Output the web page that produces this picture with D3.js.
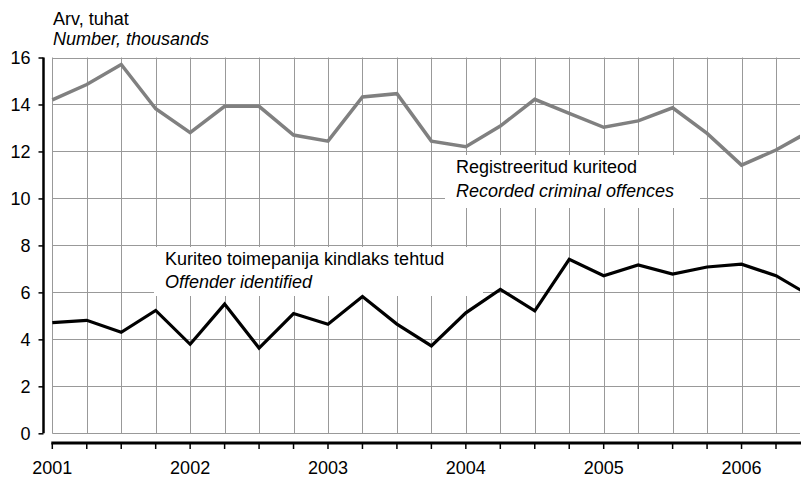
<!DOCTYPE html>
<html>
<head>
<meta charset="utf-8">
<script src="https://cdn.jsdelivr.net/npm/d3@7"></script>
<style>
  html, body { margin: 0; padding: 0; background: #fff; }
  svg { display: block; font-family: "Liberation Sans", Arial, sans-serif; }
</style>
</head>
<body>
<svg id="chart" width="801" height="478"></svg>
<script>
// Quarterly data, 2001 Q1 ... 2006 Q3 (last point partly outside the frame)
const quarters = ["2001 I","2001 II","2001 III","2001 IV","2002 I","2002 II","2002 III","2002 IV",
  "2003 I","2003 II","2003 III","2003 IV","2004 I","2004 II","2004 III","2004 IV",
  "2005 I","2005 II","2005 III","2005 IV","2006 I","2006 II","2006 III"];
const recorded = [14.2, 14.85, 15.7, 13.82, 12.8, 13.92, 13.92, 12.7, 12.44, 14.32, 14.46,
  12.44, 12.2, 13.08, 14.22, 13.62, 13.03, 13.3, 13.86, 12.77, 11.42, 12.06, 12.88];
const identified = [4.71, 4.81, 4.3, 5.23, 3.79, 5.5, 3.63, 5.1, 4.64, 5.82, 4.65,
  3.72, 5.13, 6.13, 5.21, 7.41, 6.71, 7.17, 6.78, 7.08, 7.2, 6.71, 5.85];
const yearLabels = ["2001","2002","2003","2004","2005","2006"];
const yTicks = [0, 2, 4, 6, 8, 10, 12, 14, 16];
const labelRecorded = ["Registreeritud kuriteod", "Recorded criminal offences"];
const labelIdentified = ["Kuriteo toimepanija kindlaks tehtud", "Offender identified"];
const axisTitle = ["Arv, tuhat", "Number, thousands"];

const svg = d3.select("#chart");
const W = 801;
const x = d3.scaleLinear().domain([0, 21]).range([52.3, 776]);
const y = d3.scaleLinear().domain([0, 16]).range([433.3, 57.5]);
const xRight = 800;

svg.append("defs").append("clipPath").attr("id", "clip")
  .append("rect").attr("x", 0).attr("y", 0).attr("width", xRight).attr("height", 478);

// grid
const grid = svg.append("g");
grid.selectAll("line.h").data(yTicks).join("line")
  .attr("x1", x(0)).attr("x2", xRight)
  .attr("y1", d => Math.round(y(d)) + 0.5).attr("y2", d => Math.round(y(d)) + 0.5)
  .attr("stroke", "#999").attr("stroke-width", 1);
const qIdx = d3.range(0, 22);
grid.selectAll("line.v").data(qIdx).join("line")
  .attr("x1", d => Math.round(x(d)) + 0.5).attr("x2", d => Math.round(x(d)) + 0.5)
  .attr("y1", y(16)).attr("y2", y(0))
  .attr("stroke", "#999").attr("stroke-width", 1);

// label backgrounds
svg.append("rect").attr("x", 445).attr("y", 155).attr("width", 255).attr("height", 53).attr("fill", "#fff");
svg.append("rect").attr("x", 154).attr("y", 247).attr("width", 329).attr("height", 49).attr("fill", "#fff");

// lines
const line = d3.line().x((d, i) => x(i)).y(d => y(d));
const lines = svg.append("g").attr("clip-path", "url(#clip)");
lines.append("path").datum(recorded).attr("d", line)
  .attr("fill", "none").attr("stroke", "#808080").attr("stroke-width", 3.5).attr("stroke-linejoin", "miter");
lines.append("path").datum(identified).attr("d", line)
  .attr("fill", "none").attr("stroke", "#000").attr("stroke-width", 3.2).attr("stroke-linejoin", "miter");

// y axis
const yAxis = d3.axisLeft(y).tickValues(yTicks).tickSize(5).tickPadding(8).tickFormat(d3.format("d"));
const gy = svg.append("g").attr("transform", "translate(43.5,0)").call(yAxis);
gy.select(".domain").attr("stroke", "#000").attr("stroke-width", 2.5).attr("d", `M0,${y(16)}V${y(0)}`);
gy.selectAll(".tick line").attr("stroke", "#000").attr("stroke-width", 1.5);
gy.selectAll(".tick text").attr("font-size", 18).attr("fill", "#000")
  .attr("font-family", "'Liberation Sans', Arial, sans-serif");

// x axis
const gx = svg.append("g").attr("transform", "translate(0,443)");
gx.append("line").attr("x1", x(0) - 1).attr("x2", xRight + 2).attr("y1", 0).attr("y2", 0)
  .attr("stroke", "#000").attr("stroke-width", 3);
gx.selectAll("line.t").data(qIdx).join("line")
  .attr("x1", d => x(d)).attr("x2", d => x(d)).attr("y1", 0).attr("y2", 6)
  .attr("stroke", "#000").attr("stroke-width", 1.5);
gx.selectAll("text").data(yearLabels).join("text")
  .attr("x", (d, i) => x(i * 4)).attr("y", 31)
  .attr("text-anchor", "middle").attr("font-size", 18).attr("fill", "#000").text(d => d);

// axis title
svg.append("text").attr("x", 53).attr("y", 25).attr("font-size", 18).text(axisTitle[0]);
svg.append("text").attr("x", 53).attr("y", 45).attr("font-size", 18).attr("font-style", "italic").text(axisTitle[1]);

// series labels
svg.append("text").attr("x", 456).attr("y", 172.7).attr("font-size", 18).text(labelRecorded[0]);
svg.append("text").attr("x", 456).attr("y", 196.7).attr("font-size", 18).attr("font-style", "italic").text(labelRecorded[1]);
svg.append("text").attr("x", 165).attr("y", 265).attr("font-size", 18).text(labelIdentified[0]);
svg.append("text").attr("x", 165).attr("y", 287.5).attr("font-size", 18).attr("font-style", "italic").text(labelIdentified[1]);
</script>
</body>
</html>
